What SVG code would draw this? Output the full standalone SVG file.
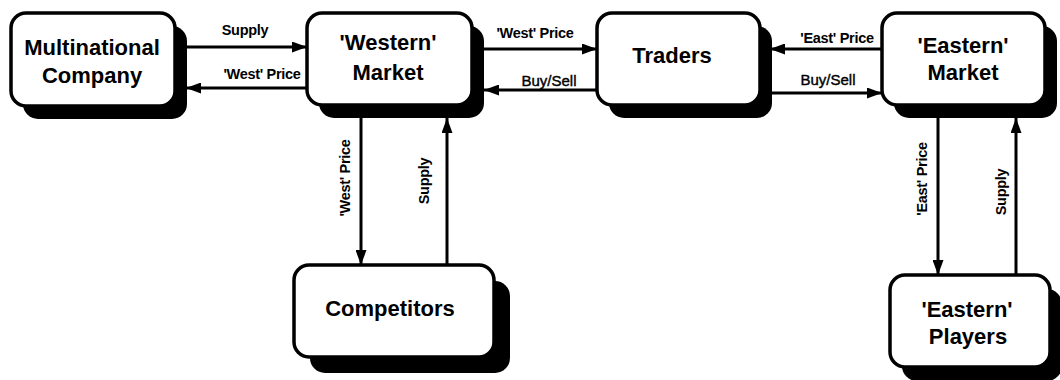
<svg xmlns="http://www.w3.org/2000/svg" width="1060" height="380" viewBox="0 0 1060 380">
<defs>
<marker id="ah" markerUnits="userSpaceOnUse" markerWidth="15" markerHeight="11" refX="15" refY="5.5" orient="auto">
<path d="M0,0 L15,5.5 L0,11 z" fill="#000"/>
</marker>
<style>
.shadow{fill:#000}
.box{fill:#fff;stroke:#000;stroke-width:3.5}
.nt{font-family:"Liberation Sans",Arial,sans-serif;font-size:22px;font-weight:bold;fill:#000;text-anchor:middle}
.lt{font-family:"Liberation Sans",Arial,sans-serif;font-size:14.5px;font-weight:bold;fill:#000;text-anchor:middle;letter-spacing:-0.3px}
.lr{font-family:"Liberation Sans",Arial,sans-serif;font-size:15px;fill:#000;stroke:#000;stroke-width:0.4;text-anchor:middle}
.c{fill:none;stroke:#000;stroke-width:3;marker-end:url(#ah)}
</style>
</defs>
<rect width="1060" height="380" fill="#fff"/>
<g id="connectors">
<path class="c" d="M175 47 H307"/>
<path class="c" d="M307 88 H186"/>
<path class="c" d="M484 49 H597"/>
<path class="c" d="M597 90 H484"/>
<path class="c" d="M882 49 H770"/>
<path class="c" d="M770 93 H882"/>
<path class="c" d="M361 118 V265"/>
<path class="c" d="M447 265 V118"/>
<path class="c" d="M938 118 V275"/>
<path class="c" d="M1016 275 V118"/>
<text class="lt" x="245" y="35">Supply</text>
<text class="lt" x="262" y="79">'West' Price</text>
<text class="lt" x="535" y="38">'West' Price</text>
<text class="lr" x="549" y="86">Buy/Sell</text>
<text class="lt" x="837" y="43">'East' Price</text>
<text class="lr" x="828" y="85">Buy/Sell</text>
<text class="lt" transform="translate(350 178) rotate(-90)">'West' Price</text>
<text class="lt" transform="translate(429 181) rotate(-90)">Supply</text>
<text class="lt" transform="translate(927 179) rotate(-90)">'East' Price</text>
<text class="lt" transform="translate(1006 192) rotate(-90)">Supply</text>
</g>
<g id="multinational">
<rect class="shadow" x="23" y="26" width="164" height="93" rx="15"/>
<rect class="box" x="11" y="13" width="164" height="93" rx="15"/>
<text class="nt" x="92" y="55">Multinational</text>
<text class="nt" x="92" y="83">Company</text>
</g>
<g id="western">
<rect class="shadow" x="319" y="26" width="165" height="92" rx="15"/>
<rect class="box" x="307" y="13" width="165" height="92" rx="15"/>
<text class="nt" x="388" y="50">'Western'</text>
<text class="nt" x="388" y="80">Market</text>
</g>
<g id="traders">
<rect class="shadow" x="609" y="26" width="163" height="92" rx="15"/>
<rect class="box" x="597" y="13" width="163" height="92" rx="15"/>
<text class="nt" x="672" y="63">Traders</text>
</g>
<g id="eastern">
<rect class="shadow" x="894" y="26" width="163" height="92" rx="15"/>
<rect class="box" x="882" y="13" width="163" height="92" rx="15"/>
<text class="nt" x="963" y="53">'Eastern'</text>
<text class="nt" x="963" y="80">Market</text>
</g>
<g id="competitors">
<rect class="shadow" x="310" y="281" width="200" height="92" rx="15"/>
<rect class="box" x="294" y="265" width="200" height="92" rx="15"/>
<text class="nt" x="390" y="316">Competitors</text>
</g>
<g id="eastern-players">
<rect class="shadow" x="902" y="289" width="160" height="92" rx="15"/>
<rect class="box" x="890" y="275" width="160" height="92" rx="15"/>
<text class="nt" x="967" y="317">'Eastern'</text>
<text class="nt" x="968" y="344">Players</text>
</g>
</svg>
